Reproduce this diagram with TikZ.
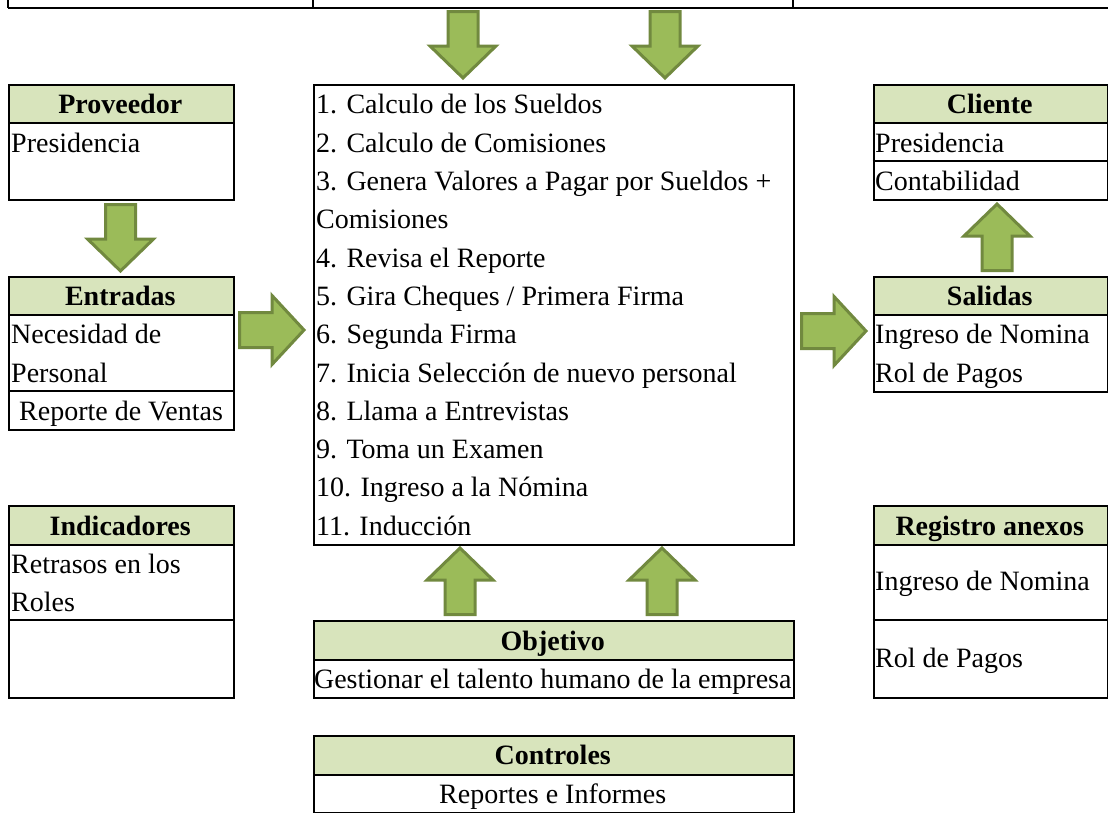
\documentclass[tikz,border=0pt]{standalone}
\usepackage{fontspec}
\setmainfont{Liberation Serif}
\definecolor{hdrgreen}{HTML}{D8E4BC}
\definecolor{arrowfill}{HTML}{9BBB59}
\definecolor{arrowline}{HTML}{71893F}
\newcommand\fs{\fontsize{28}{30}\selectfont}
\newcommand\dnarrowpath{(-15,1.5) -- (15,1.5) -- (15,36) -- (33,36) -- (0,68) -- (-33,36) -- (-15,36) -- cycle}
\newcommand\rtarrowpath{(1.5,-17.5) -- (34,-17.5) -- (34,-34.5) -- (66,0) -- (34,34.5) -- (34,17.5) -- (1.5,17.5) -- cycle}
\tikzset{
  cell/.style={draw=black, line width=2pt, inner sep=0pt, anchor=north west},
  hdr/.style={cell, fill=hdrgreen},
  txt/.style={anchor=base west, inner sep=0pt, font=\fs},
  ctxt/.style={anchor=base, inner sep=0pt, font=\fs},
  btxt/.style={anchor=base, inner sep=0pt, font=\fs\bfseries},
  blockarrow/.style={fill=arrowfill, draw=arrowline, line width=3pt, line join=miter},
  rule/.style={draw=black, line width=2pt}
}
\begin{document}
\begin{tikzpicture}[x=1pt, y=-1pt]
\useasboundingbox (0,0) rectangle (1108,812);
% top cut-off row
\draw[rule] (8,7.5) -- (1108,7.5);
\draw[rule] (8,0) -- (8,7.5) (313,0) -- (313,7.5) (793,0) -- (793,7.5);

% ---------- Proveedor ----------
\node[cell, minimum width=224.5pt, minimum height=114.9pt] (prov) at (8,84.1) {};
\node[hdr, minimum width=224.5pt, minimum height=38.3pt] (provh) at (8,84.1) {};
\node[btxt] (provt) at (120.25,113.9) {Proveedor};
\node[txt] (prov1) at (11,152.2) {Presidencia};

% ---------- Entradas ----------
\node[cell, minimum width=224.5pt, minimum height=153.2pt] (ent) at (8,275.6) {};
\node[hdr, minimum width=224.5pt, minimum height=38.3pt] (enth) at (8,275.6) {};
\draw[rule] (8,390.5) -- (232.5,390.5);
\node[btxt] (entt) at (120.25,305.4) {Entradas};
\node[txt] (ent1) at (11,343.7) {Necesidad de};
\node[txt] (ent2) at (11,382.0) {Personal};
\node[ctxt] (ent3) at (121,420.3) {Reporte de Ventas};

% ---------- Indicadores ----------
\node[cell, minimum width=224.5pt, minimum height=191.5pt] (ind) at (8,505.4) {};
\node[hdr, minimum width=224.5pt, minimum height=38.3pt] (indh) at (8,505.4) {};
\draw[rule] (8,620.3) -- (232.5,620.3);
\node[btxt] (indt) at (120.25,535.2) {Indicadores};
\node[txt] (ind1) at (11,573.5) {Retrasos en los};
\node[txt] (ind2) at (11,611.8) {Roles};

% ---------- Proceso (centro) ----------
\node[cell, minimum width=480.5pt, minimum height=459.6pt] (proc) at (312.5,84.1) {};
\node[txt] (p1) at (316,113.9) {1. Calculo de los Sueldos};
\node[txt] (p2) at (316,152.2) {2. Calculo de Comisiones};
\node[txt] (p3) at (316,190.5) {3. Genera Valores a Pagar por Sueldos +};
\node[txt] (p3b) at (316,228.8) {Comisiones};
\node[txt] (p4) at (316,267.1) {4. Revisa el Reporte};
\node[txt] (p5) at (316,305.4) {5. Gira Cheques / Primera Firma};
\node[txt] (p6) at (316,343.7) {6. Segunda Firma};
\node[txt] (p7) at (316,382.0) {7. Inicia Selección de nuevo personal};
\node[txt] (p8) at (316,420.3) {8. Llama a Entrevistas};
\node[txt] (p9) at (316,458.6) {9. Toma un Examen};
\node[txt] (p10) at (316,496.9) {10. Ingreso a la Nómina};
\node[txt] (p11) at (316,535.2) {11. Inducción};

% ---------- Objetivo ----------
\node[cell, minimum width=480.5pt, minimum height=76.6pt] (obj) at (312.5,620.3) {};
\node[hdr, minimum width=480.5pt, minimum height=38.3pt] (objh) at (312.5,620.3) {};
\node[btxt] (objt) at (552.75,650.1) {Objetivo};
\node[ctxt] (obj1) at (552.75,688.4) {Gestionar el talento humano de la empresa};

% ---------- Controles ----------
\node[cell, minimum width=480.5pt, minimum height=76.6pt] (ctl) at (312.5,735.2) {};
\node[hdr, minimum width=480.5pt, minimum height=38.3pt] (ctlh) at (312.5,735.2) {};
\node[btxt] (ctlt) at (552.75,764.7) {Controles};
\node[ctxt] (ctl1) at (552.75,803.0) {Reportes e Informes};

% ---------- Cliente ----------
\node[cell, minimum width=234.5pt, minimum height=114.9pt] (cli) at (872.5,84.1) {};
\node[hdr, minimum width=234.5pt, minimum height=38.3pt] (clih) at (872.5,84.1) {};
\draw[rule] (872.5,160.7) -- (1107,160.7);
\node[btxt] (clit) at (989.75,113.9) {Cliente};
\node[txt] (cli1) at (875,152.2) {Presidencia};
\node[txt] (cli2) at (875,190.5) {Contabilidad};

% ---------- Salidas ----------
\node[cell, minimum width=234.5pt, minimum height=114.9pt] (sal) at (872.5,275.6) {};
\node[hdr, minimum width=234.5pt, minimum height=38.3pt] (salh) at (872.5,275.6) {};
\node[btxt] (salt) at (989.75,305.4) {Salidas};
\node[txt] (sal1) at (875,343.7) {Ingreso de Nomina};
\node[txt] (sal2) at (875,382.0) {Rol de Pagos};

% ---------- Registro anexos ----------
\node[cell, minimum width=234.5pt, minimum height=191.5pt] (reg) at (872.5,505.4) {};
\node[hdr, minimum width=234.5pt, minimum height=38.3pt] (regh) at (872.5,505.4) {};
\draw[rule] (872.5,620.3) -- (1107,620.3);
\node[btxt] (regt) at (989.75,535.2) {Registro anexos};
\node[txt] (reg1) at (875,590.5) {Ingreso de Nomina};
\node[txt] (reg2) at (875,667.5) {Rol de Pagos};

% ---------- block arrows ----------
% top, into process
\begin{scope}[shift={(463,10)}] \draw[blockarrow] \dnarrowpath; \end{scope}
\begin{scope}[shift={(665,10)}] \draw[blockarrow] \dnarrowpath; \end{scope}
% Proveedor -> Entradas
\begin{scope}[shift={(120.5,203)}] \draw[blockarrow] \dnarrowpath; \end{scope}
% Entradas -> Proceso
\begin{scope}[shift={(238,330)}] \draw[blockarrow] \rtarrowpath; \end{scope}
% Proceso -> Salidas
\begin{scope}[shift={(800,331)}] \draw[blockarrow] \rtarrowpath; \end{scope}
% Salidas -> Cliente
\begin{scope}[shift={(997,272)}, yscale=-1] \draw[blockarrow] \dnarrowpath; \end{scope}
% Objetivo -> Proceso
\begin{scope}[shift={(460,616)}, yscale=-1] \draw[blockarrow] \dnarrowpath; \end{scope}
\begin{scope}[shift={(662,616)}, yscale=-1] \draw[blockarrow] \dnarrowpath; \end{scope}
\end{tikzpicture}
\end{document}
